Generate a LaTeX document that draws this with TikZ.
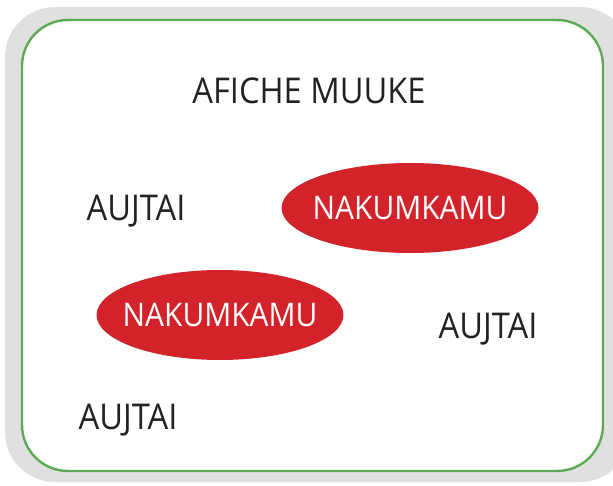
\documentclass[tikz,border=0pt]{standalone}
\usepackage{fontspec}
\setmainfont{Open Sans}
\newfontfamily\cardfont[FakeStretch=0.92]{Open Sans}
\usetikzlibrary{shapes.geometric}
\definecolor{framegray}{HTML}{E0E0E0}
\definecolor{framegreen}{HTML}{5DAA55}
\definecolor{wordred}{HTML}{D2232A}
\definecolor{wordblack}{HTML}{222222}
\tikzset{
  word/.style={text=wordblack, font=\cardfont\fontsize{35.5}{40}\selectfont, inner sep=0pt},
  redword/.style={ellipse, fill=wordred, text=white, inner xsep=-6.5pt, inner ysep=0pt,
    minimum height=90pt, font=\cardfont\fontsize{32.5}{38}\selectfont}
}
\begin{document}
\begin{tikzpicture}[x=1pt, y=-1pt]
	  \useasboundingbox (0,0) rectangle (613,486);
	  \fill[framegray, rounded corners=50pt] (5,7) rectangle (630,482);
	  \draw[framegreen, fill=white, line width=2.4pt, rounded corners=46pt] (22,20) rectangle (603,471);
	  
	  \node[word] (title) at (309,91) {AFICHE MUUKE};
	  \node[word] (a1) at (136,211) {AUJTAI};
	  \node[word] (a2) at (488,329) {AUJTAI};
	  \node[word] (a3) at (128,420) {AUJTAI};
	  \node[redword] (n1) at (410,208) {NAKUMKAMU};
	  \node[redword, inner xsep=-10pt] (n2) at (220,315) {NAKUMKAMU};
	\end{tikzpicture}
\end{document}
